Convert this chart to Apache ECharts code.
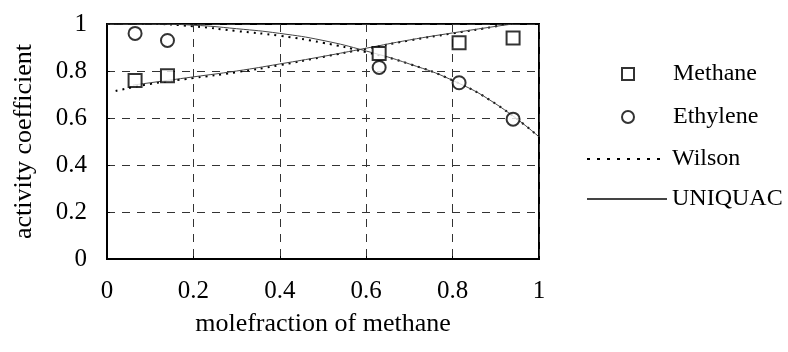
<!DOCTYPE html>
<html>
<head>
<meta charset="utf-8">
<script src="https://cdn.jsdelivr.net/npm/echarts@6/dist/echarts.min.js"></script>
<style>
    html, body { margin: 0; padding: 0; background: #fff; }
    #chart { width: 788px; height: 352px; }
</style>
</head>
<body>
<div id="chart"></div>
<script>
// measured points
var methaneX = [0.065, 0.14, 0.63, 0.815, 0.94];
var methaneY = [0.76, 0.78, 0.875, 0.92, 0.94];
var ethyleneX = [0.065, 0.14, 0.63, 0.815, 0.94];
var ethyleneY = [0.96, 0.93, 0.815, 0.75, 0.595];

// model curves, methane
var wilsonMethX = [0.02, 0.1, 0.2, 0.3, 0.4, 0.5, 0.6, 0.7, 0.8, 0.9, 0.92];
var wilsonMethY = [0.715, 0.745, 0.77, 0.795, 0.825, 0.86, 0.895, 0.93, 0.96, 0.99, 1.0];
var uniqMethX = [0.06, 0.1, 0.2, 0.3, 0.4, 0.5, 0.6, 0.7, 0.8, 0.9, 0.94];
var uniqMethY = [0.74, 0.75, 0.775, 0.8, 0.83, 0.862, 0.897, 0.932, 0.962, 0.99, 1.0];

// model curves, ethylene
var ethX = [0, 0.1, 0.2, 0.3, 0.4, 0.5, 0.6, 0.7, 0.8, 0.9, 1.0];
var wilsonEthY = [1.0, 1.0, 0.99, 0.97, 0.95, 0.92, 0.88, 0.83, 0.76, 0.66, 0.52];
var uniqEthY = [1.0, 1.0, 0.995, 0.98, 0.96, 0.93, 0.885, 0.83, 0.76, 0.66, 0.52];

function pairs(xs, ys) {
    return xs.map(function (x, i) { return [x, ys[i]]; });
}

var font = 'Liberation Serif';
var legendText = { fontFamily: font, fontSize: 24, color: '#000' };
var chart = echarts.init(document.getElementById('chart'));

var option = {
    animation: false,
    backgroundColor: '#fff',
    grid: {
        left: 107,
        right: 249,
        top: 24,
        bottom: 93,
        show: true,
        borderColor: '#000',
        borderWidth: 2,
        backgroundColor: 'transparent'
    },
    xAxis: {
        type: 'value',
        min: 0,
        max: 1,
        interval: 0.2,
        name: 'molefraction of methane',
        nameLocation: 'middle',
        nameGap: 52,
        nameTextStyle: { fontFamily: font, fontSize: 26, color: '#000' },
        axisLine: { show: true, lineStyle: { color: '#000', width: 2 } },
        axisTick: { show: true, inside: true, length: 3, lineStyle: { color: '#000' } },
        axisLabel: { fontFamily: font, fontSize: 25, color: '#000', margin: 20 },
        splitLine: { show: true, lineStyle: { color: '#333', type: [8, 7], width: 1 } }
    },
    yAxis: {
        type: 'value',
        min: 0,
        max: 1,
        interval: 0.2,
        name: 'activity coefficient',
        nameLocation: 'middle',
        nameGap: 70,
        nameTextStyle: { fontFamily: font, fontSize: 26, color: '#000' },
        axisLine: { show: true, lineStyle: { color: '#000', width: 2 } },
        axisTick: { show: true, inside: true, length: 3, lineStyle: { color: '#000' } },
        axisLabel: { fontFamily: font, fontSize: 25, color: '#000', margin: 20 },
        splitLine: { show: true, lineStyle: { color: '#333', type: [8, 7], width: 1 } }
    },
    legend: [{
        data: ['Methane', 'Ethylene'],
        orient: 'vertical',
        left: 616,
        top: 57,
        itemWidth: 12,
        itemHeight: 12,
        itemGap: 19,
        itemStyle: { borderWidth: 2, borderColor: '#000' },
        textStyle: Object.assign({ padding: [0, 0, 0, 34] }, legendText)
    }, {
        data: ['Wilson'],
        left: 581,
        top: 142,
        itemWidth: 80,
        itemHeight: 4,
        itemStyle: { opacity: 0 },
        lineStyle: { type: [3, 7], width: 2 },
        textStyle: legendText
    }, {
        data: ['UNIQUAC'],
        left: 581,
        top: 182,
        itemWidth: 80,
        itemHeight: 4,
        itemStyle: { opacity: 0 },
        textStyle: legendText
    }],
    series: [{
        name: 'Wilson',
        type: 'line',
        smooth: true,
        symbol: 'none',
        lineStyle: { color: '#000', width: 2, type: [2, 5] },
        itemStyle: { color: '#000' },
        data: pairs(wilsonMethX, wilsonMethY)
    }, {
        name: 'Wilson',
        type: 'line',
        smooth: true,
        symbol: 'none',
        lineStyle: { color: '#000', width: 2, type: [2, 5] },
        itemStyle: { color: '#000' },
        data: pairs(ethX, wilsonEthY)
    }, {
        name: 'UNIQUAC',
        type: 'line',
        smooth: true,
        symbol: 'none',
        lineStyle: { color: '#444', width: 1 },
        itemStyle: { color: '#444' },
        data: pairs(uniqMethX, uniqMethY)
    }, {
        name: 'UNIQUAC',
        type: 'line',
        smooth: true,
        symbol: 'none',
        lineStyle: { color: '#444', width: 1 },
        itemStyle: { color: '#444' },
        data: pairs(ethX, uniqEthY)
    }, {
        name: 'Methane',
        type: 'scatter',
        symbol: 'emptyRect',
        symbolSize: 13,
        z: 5,
        itemStyle: { color: '#000', borderColor: '#000', borderWidth: 2 },
        data: pairs(methaneX, methaneY)
    }, {
        name: 'Ethylene',
        type: 'scatter',
        symbol: 'emptyCircle',
        symbolSize: 13,
        z: 5,
        itemStyle: { color: '#000', borderColor: '#000', borderWidth: 2 },
        data: pairs(ethyleneX, ethyleneY)
    }]
};

chart.setOption(option);
</script>
</body>
</html>
